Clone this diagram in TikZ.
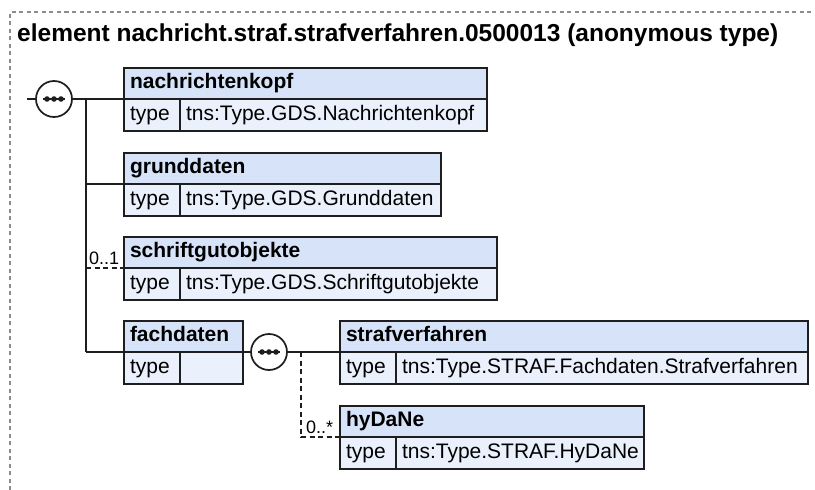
\documentclass[tikz,border=0pt]{standalone}
\usepackage{fontspec}
\setmainfont{Liberation Sans}
\usepackage{tikz}
\usetikzlibrary{positioning, calc}
\definecolor{headblue}{HTML}{D6E3F8}
\definecolor{rowblue}{HTML}{EAF1FC}
\definecolor{boxline}{HTML}{1E1E1E}
\definecolor{framegray}{HTML}{8C8C8C}
\tikzset{
	headnode/.style={
			draw=boxline,
			fill=headblue,
			line width=1.6pt,
			anchor=north west,
			outer sep=0pt,
			inner xsep=6pt,
			inner ysep=0pt,
			minimum height=31pt,
			text height=15pt,
			text depth=4.5pt,
			font=\fontsize{21}{25}\selectfont\bfseries
		},
	typenode/.style={
			draw=boxline,
			fill=rowblue,
			line width=1.6pt,
			anchor=north west,
			outer sep=0pt,
			inner xsep=6pt,
			inner ysep=0pt,
			minimum height=32pt,
			text height=15pt,
			text depth=4.5pt,
			text width=44pt,
			font=\fontsize{21}{25}\selectfont
		},
	valuenode/.style={
			typenode,
			text width=#1
		},
	seqnode/.style={
			circle,
			draw=boxline,
			fill=white,
			line width=1.7pt,
			minimum size=36pt,
			inner sep=0pt
		},
	occnode/.style={
			anchor=south west,
			inner sep=0pt,
			font=\fontsize{18}{21}\selectfont
		},
	link/.style={
			draw=boxline,
			line width=1.6pt
		},
	optlink/.style={
			link,
			dash pattern=on 5pt off 3.5pt
		}
}

\begin{document}
\begin{tikzpicture}[x=1pt, y=-1pt]
\useasboundingbox (0,0) rectangle (815,490);
\draw[framegray, line width=1.1pt, dash pattern=on 4pt off 3.5pt] (10,490) -- (10,12) -- (814,12);
\node[anchor=base west, inner sep=0pt, font=\fontsize{24.5}{28}\selectfont\bfseries] (title) at (17,41)
	{element nachricht.straf.strafverfahren.0500013 (anonymous type)};

\node[seqnode] (seq1) at (54,99) {};
\coordinate (stub) at (27,99);
\coordinate (spine) at (86,99);

\node[headnode, text width=351pt] (nk) at (124,68) {nachrichtenkopf};
\node[typenode] (nktype) at (nk.south west) {type};
\node[valuenode=295pt] (nkval) at (nktype.north east) {tns:Type.GDS.Nachrichtenkopf};

\node[headnode, text width=305pt] (gd) at (124,153) {grunddaten};
\node[typenode] (gdtype) at (gd.south west) {type};
\node[valuenode=249pt] (gdval) at (gdtype.north east) {tns:Type.GDS.Grunddaten};

\node[headnode, text width=361pt] (sg) at (124,237) {schriftgutobjekte};
\node[typenode] (sgtype) at (sg.south west) {type};
\node[valuenode=305pt] (sgval) at (sgtype.north east) {tns:Type.GDS.Schriftgutobjekte};

\node[headnode, text width=107pt] (fd) at (124,321) {fachdaten};
\node[typenode] (fdtype) at (fd.south west) {type};
\node[valuenode=51pt] (fdval) at (fdtype.north east) {};

\node[seqnode] (seq2) at (269,352) {};
\coordinate (branch) at (301,352);

\node[headnode, text width=456pt] (sv) at (340,321) {strafverfahren};
\node[typenode] (svtype) at (sv.south west) {type};
\node[valuenode=400pt] (svval) at (svtype.north east) {tns:Type.STRAF.Fachdaten.Strafverfahren};

\node[headnode, text width=292pt] (hy) at (340,406) {hyDaNe};
\node[typenode] (hytype) at (hy.south west) {type};
\node[valuenode=236pt] (hyval) at (hytype.north east) {tns:Type.STRAF.HyDaNe};

% sequence symbols
\foreach \s in {seq1, seq2} {
	\draw[link, line width=1.8pt] ($(\s.center)+(-11,0)$) -- ($(\s.center)+(11,0)$);
	\foreach \dx in {-7,0,7}
		\fill[boxline] ($(\s.center)+(\dx,0)$) circle (2.8pt);
}

\draw[link] (stub) -- (seq1.west);
\draw[link] (seq1.east) -- (nk.south west);
\draw[link] (spine) -- (spine |- fd.south west);
\draw[link] (spine |- gd.south west) -- (gd.south west);
\draw[optlink] (spine |- sg.south west) -- (sg.south west);
\draw[link] (spine |- fd.south west) -- (fd.south west);
\node[occnode] (sgocc) at ($(spine |- sg.south west)+(3,-3)$) {0..1};

\draw[link] (fd.south east) -- (seq2.west);
\draw[link] (seq2.east) -- (sv.south west);
\draw[optlink] (branch) |- (hy.south west);
\node[occnode] (hyocc) at ($(branch |- hy.south west)+(5,-3)$) {0..*};
\end{tikzpicture}
\end{document}
